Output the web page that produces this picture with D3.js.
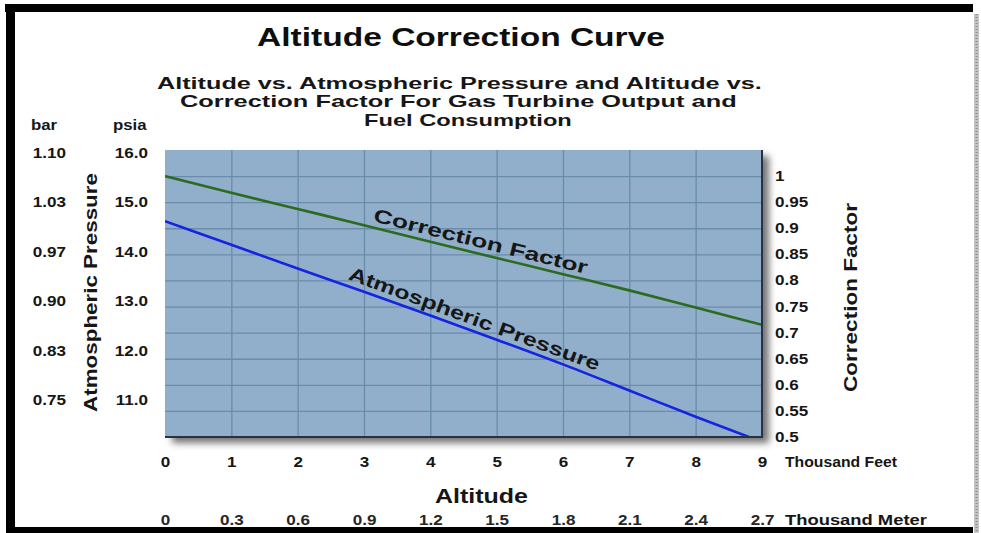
<!DOCTYPE html>
<html><head><meta charset="utf-8">
<script src="https://cdn.jsdelivr.net/npm/d3@7"></script>
<style>
body{margin:0;background:#fff}
svg{display:block}
text{font-family:"Liberation Sans",Arial,Helvetica,sans-serif;font-weight:bold;fill:#161616}
</style></head>
<body><svg id="c" width="981" height="533"></svg>
<script>
// ---- data ----
const altitudeFeet = [0,1,2,3,4,5,6,7,8,9];               // thousand feet
const correctionFactor = [1.0,0.968,0.937,0.906,0.874,0.843,0.812,0.781,0.748,0.715];
const pressurePsia = [14.62,14.14,13.66,13.19,12.71,12.22,11.72,11.19,10.66,10.15];
const psiaTicks = [16,15,14,13,12,11];
const barLabels = ["1.10","1.03","0.97","0.90","0.83","0.75"];
const cfTicks = [0.5,0.55,0.6,0.65,0.7,0.75,0.8,0.85,0.9,0.95,1];
const cfLabels = ["0.5","0.55","0.6","0.65","0.7","0.75","0.8","0.85","0.9","0.95","1"];
const feetTicks = [0,1,2,3,4,5,6,7,8,9];
const meterLabels = ["0","0.3","0.6","0.9","1.2","1.5","1.8","2.1","2.4","2.7"];
const gridX = [1,2,3,4,5,6,7,8];
const gridY = [0.55,0.6,0.65,0.7,0.75,0.8,0.85,0.9,0.95,1];

const svg = d3.select("#c");
const P = {l:165, r:762, t:150, b:437};
const x = d3.scaleLinear().domain([0,9]).range([P.l,P.r]);
const yCF = d3.scaleLinear().domain([0.5,1.05]).range([P.b,P.t]);
const yP = d3.scaleLinear().domain([10.25,16.06]).range([P.b,P.t]);

function addScale(el,k){const t=d3.select(el);const tr=t.attr("transform")||"";t.attr("transform",tr+" scale("+k+",1)");}
function stretch(sel,k){sel.each(function(){addScale(this,k);});}
function fit(sel,w){sel.each(function(){addScale(this,w/this.getComputedTextLength());});}

// ---- frame ----
svg.append("rect").attr("x",0).attr("y",0).attr("width",981).attr("height",533).attr("fill","#fff");
svg.append("rect").attr("x",5).attr("y",4).attr("width",968).attr("height",8).attr("fill","#000");
svg.append("rect").attr("x",6).attr("y",4).attr("width",9).attr("height",529).attr("fill","#000");
svg.append("rect").attr("x",6).attr("y",527).attr("width",967).attr("height",6).attr("fill","#000");
svg.append("rect").attr("x",974).attr("y",14).attr("width",5).attr("height",519).attr("fill","#c4c4c4");
svg.append("line").attr("x1",976.5).attr("x2",976.5).attr("y1",14).attr("y2",533)
  .attr("stroke","#888").attr("stroke-width",2).attr("stroke-dasharray","1,2");

// ---- titles ----
const title = svg.append("text").attr("transform","translate(461,46)").attr("text-anchor","middle")
  .style("font-size","25px").style("fill","#0e0e0e").text("Altitude Correction Curve");
fit(title,408);
const subs = [
  {t:"Altitude vs. Atmospheric Pressure and Altitude vs.", x:157, y:89, w:605},
  {t:"Correction Factor For Gas Turbine Output and", x:180, y:107, w:557},
  {t:"Fuel Consumption", x:364, y:126, w:208}
];
subs.forEach(s=>{
  const t = svg.append("text").attr("transform",`translate(${s.x},${s.y})`)
    .style("font-size","16px").text(s.t);
  fit(t,s.w);
});
stretch(svg.append("text").attr("transform","translate(31,130)").style("font-size","14px").text("bar"),1.2);
stretch(svg.append("text").attr("transform","translate(113,130)").style("font-size","14px").text("psia"),1.2);

// ---- plot ----
const defs = svg.append("defs");
defs.append("filter").attr("id","sh").attr("x","-10%").attr("y","-10%").attr("width","130%").attr("height","130%")
  .append("feGaussianBlur").attr("stdDeviation",3.5);
defs.append("clipPath").attr("id","clip").append("rect")
  .attr("x",P.l).attr("y",P.t).attr("width",P.r-P.l).attr("height",P.b-P.t);

svg.append("rect").attr("x",P.l+7).attr("y",P.t+6).attr("width",P.r-P.l).attr("height",P.b-P.t)
  .attr("fill","#757575").attr("filter","url(#sh)");
svg.append("rect").attr("x",P.l).attr("y",P.t).attr("width",P.r-P.l).attr("height",P.b-P.t)
  .attr("fill","#91afca");

const gx = svg.append("g").attr("transform",`translate(0,${P.b})`)
  .call(d3.axisBottom(x).tickValues(gridX).tickSize(-(P.b-P.t)).tickFormat(""));
gx.select(".domain").remove();
gx.selectAll("line").attr("stroke","#6a8cab").attr("stroke-width",1.3);
const gy = svg.append("g").attr("transform",`translate(${P.l},0)`)
  .call(d3.axisLeft(yCF).tickValues(gridY).tickSize(-(P.r-P.l)).tickFormat(""));
gy.select(".domain").remove();
gy.selectAll("line").attr("stroke","#6a8cab").attr("stroke-width",1.3);

const lineCF = d3.line().x((d,i)=>x(altitudeFeet[i])).y(d=>yCF(d)).curve(d3.curveMonotoneX);
const lineP = d3.line().x((d,i)=>x(altitudeFeet[i])).y(d=>yP(d)).curve(d3.curveMonotoneX);
const lg = svg.append("g").attr("clip-path","url(#clip)");
lg.append("path").attr("d",lineCF(correctionFactor)).attr("fill","none").attr("stroke","#2c6a20").attr("stroke-width",2.6);
lg.append("path").attr("d",lineP(pressurePsia)).attr("fill","none").attr("stroke","#1424e0").attr("stroke-width",2.6);

// plot border right / bottom
svg.append("line").attr("x1",P.r).attr("x2",P.r).attr("y1",P.t).attr("y2",P.b+1).attr("stroke","#27323e").attr("stroke-width",2);
svg.append("line").attr("x1",P.l).attr("x2",P.r+1).attr("y1",P.b).attr("y2",P.b).attr("stroke","#27323e").attr("stroke-width",2);

// in-plot labels
const cfAt = d3.scaleLinear().domain(altitudeFeet).range(correctionFactor);
const pAt = d3.scaleLinear().domain(altitudeFeet).range(pressurePsia);
function angle(f,sc,a1,a2){return Math.atan2(sc(f(a2))-sc(f(a1)),x(a2)-x(a1))*180/Math.PI;}
const aCF = angle(cfAt,yCF,3,6), aP = angle(pAt,yP,2,7);
const a0 = 3.13, a1 = 2.75;
const lbl1 = svg.append("text")
  .attr("transform",`translate(${x(a0)},${yCF(cfAt(a0))-6}) rotate(${aCF})`)
  .style("font-size","19px").text("Correction Factor");
fit(lbl1,220);
const lbl2 = svg.append("text")
  .attr("transform",`translate(${x(a1)},${yP(pAt(a1))-7}) rotate(${aP})`)
  .style("font-size","19px").text("Atmospheric Pressure");
fit(lbl2,266);

// ---- axes ----
function styleAxis(g,size){g.select(".domain").remove();g.selectAll(".tick line").remove();
  g.selectAll("text").style("font-size",size+"px");}
const k = 1.22;
const axPsia = svg.append("g").attr("transform","translate(148,0)")
  .call(d3.axisLeft(yP).tickValues(psiaTicks).tickFormat(d3.format(".1f")).tickSize(0).tickPadding(0));
styleAxis(axPsia,14); stretch(axPsia.selectAll("text"),k);
const axBar = svg.append("g").attr("transform","translate(66,0)")
  .call(d3.axisLeft(yP).tickValues(psiaTicks).tickFormat((d,i)=>barLabels[i]).tickSize(0).tickPadding(0));
styleAxis(axBar,14); stretch(axBar.selectAll("text"),k);
const axCF = svg.append("g").attr("transform","translate(775,0)")
  .call(d3.axisRight(yCF).tickValues(cfTicks).tickFormat((d,i)=>cfLabels[i]).tickSize(0).tickPadding(0));
styleAxis(axCF,14); stretch(axCF.selectAll("text"),k);
const axFt = svg.append("g").attr("transform","translate(0,467)")
  .call(d3.axisBottom(x).tickValues(feetTicks).tickFormat(d3.format("d")).tickSize(0).tickPadding(0));
styleAxis(axFt,14); axFt.selectAll("text").attr("y",0).attr("dy",0); stretch(axFt.selectAll("text"),k);
const axM = svg.append("g").attr("transform","translate(0,525)")
  .call(d3.axisBottom(x).tickValues(feetTicks).tickFormat((d,i)=>meterLabels[i]).tickSize(0).tickPadding(0));
styleAxis(axM,14); axM.selectAll("text").attr("y",0).attr("dy",0).style("fill","#262626"); stretch(axM.selectAll("text"),k);

fit(svg.append("text").attr("transform","translate(785,467)").style("font-size","14px").text("Thousand Feet"),112);
fit(svg.append("text").attr("transform","translate(785,525)").style("font-size","14px").text("Thousand Meter"),142);
fit(svg.append("text").attr("transform","translate(481.5,503)").attr("text-anchor","middle").style("font-size","20px").text("Altitude"),93);
fit(svg.append("text").attr("transform","translate(97,292.5) rotate(-90)").attr("text-anchor","middle").style("font-size","19px").text("Atmospheric Pressure"),239);
fit(svg.append("text").attr("transform","translate(857,297.5) rotate(-90)").attr("text-anchor","middle").style("font-size","19px").text("Correction Factor"),189);
</script></body></html>
